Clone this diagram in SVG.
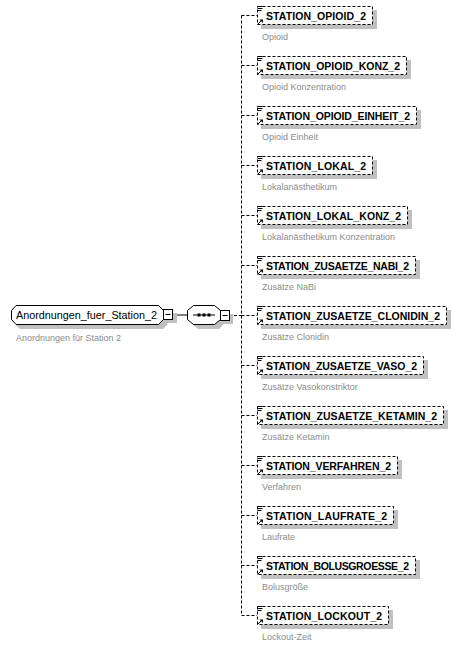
<svg xmlns="http://www.w3.org/2000/svg" width="462" height="648" viewBox="0 0 462 648">
<style>
.bg{fill:#ffffff}
.box{fill:#ffffff;stroke:#000;stroke-width:1;stroke-dasharray:3 2}
.solid{fill:#ffffff;stroke:#000;stroke-width:1}
.shadow{fill:#c0c0c0;stroke:none}
.name{font-family:"Liberation Sans",Arial,sans-serif;font-size:10.5px;font-weight:bold;fill:#000}
.rname{font-family:"Liberation Sans",Arial,sans-serif;font-size:11px;fill:#000}
.desc{font-family:"Liberation Sans",Arial,sans-serif;font-size:9px;fill:#8c8c8c}
.conn{fill:none;stroke:#000;stroke-width:1}
.dash{fill:none;stroke:#000;stroke-width:1;stroke-dasharray:3 2}
.ic{fill:none;stroke:#000;stroke-width:1}
</style>
<defs>
<g id="icons">
<path class="ic" d="M257.5 6.5h5M257.5 8.5h5M257.5 10.5h4"/>
<path class="ic" d="M257.5 24.5l4-4"/>
<path d="M259.5 19.5h3.5v3.5z" fill="#000"/>
</g>
</defs>
<rect class="bg" x="0" y="0" width="462" height="648"/>
<g id="connectors">
<line class="conn" x1="173" y1="315" x2="187" y2="315"/>
<line class="dash" x1="229" y1="315.5" x2="241.5" y2="315.5"/>
<line class="dash" x1="241.5" y1="15.5" x2="241.5" y2="615.5"/>
<path class="dash" d="M241.5 15.5H257M241.5 65.5H257M241.5 115.5H257M241.5 165.5H257M241.5 215.5H257M241.5 265.5H257M241.5 315.5H257M241.5 365.5H257M241.5 415.5H257M241.5 465.5H257M241.5 515.5H257M241.5 565.5H257M241.5 615.5H257"/>
</g>
<g id="root">
<polygon class="shadow" points="20,309 163,309 167,313 167,325 163,329 20,329 16,325 16,313"/>
<polygon class="solid" points="16,305.5 158.5,305.5 163.5,310.5 163.5,319.5 158.5,324.5 16,324.5 11.5,319.5 11.5,310.5"/>
<text class="rname" x="16" y="319" textLength="141" lengthAdjust="spacingAndGlyphs">Anordnungen_fuer_Station_2</text>
<text class="desc" x="16" y="341">Anordnungen für Station 2</text>
<rect class="shadow" x="167" y="313" width="10" height="10"/>
<rect class="solid" x="163.5" y="309.5" width="9" height="10"/>
<line class="conn" x1="165.5" y1="314.5" x2="170.5" y2="314.5"/>
</g>
<g id="sequence">
<polygon class="shadow" points="198,309 219,309 224,314 224,324 219,329 198,329 192,324 192,314"/>
<polygon class="solid" points="193.5,305.5 214.5,305.5 220.5,310.5 220.5,319.5 214.5,324.5 193.5,324.5 187.5,319.5 187.5,310.5"/>
<line class="conn" x1="193" y1="315" x2="215" y2="315"/>
<rect x="197.5" y="313.5" width="3" height="3" fill="#000"/>
<rect x="202.5" y="313.5" width="3" height="3" fill="#000"/>
<rect x="207.5" y="313.5" width="3" height="3" fill="#000"/>
<rect class="shadow" x="224" y="314" width="9" height="10"/>
<rect class="solid" x="220.5" y="310.5" width="9" height="10"/>
<line class="conn" x1="222.5" y1="315.5" x2="227.5" y2="315.5"/>
</g>
<g id="n1" transform="translate(0,0)">
<rect class="shadow" x="261" y="10" width="116" height="19"/>
<rect class="box" x="257.5" y="6.5" width="115" height="18"/>
<use href="#icons"/>
<text class="name" x="266" y="19.5" textLength="100">STATION_OPIOID_2</text>
<text class="desc" x="262" y="40">Opioid</text>
</g>
<g id="n2" transform="translate(0,50)">
<rect class="shadow" x="261" y="10" width="150" height="19"/>
<rect class="box" x="257.5" y="6.5" width="149" height="18"/>
<use href="#icons"/>
<text class="name" x="266" y="19.5" textLength="134">STATION_OPIOID_KONZ_2</text>
<text class="desc" x="262" y="40">Opioid Konzentration</text>
</g>
<g id="n3" transform="translate(0,100)">
<rect class="shadow" x="261" y="10" width="160" height="19"/>
<rect class="box" x="257.5" y="6.5" width="159" height="18"/>
<use href="#icons"/>
<text class="name" x="266" y="19.5" textLength="144">STATION_OPIOID_EINHEIT_2</text>
<text class="desc" x="262" y="40">Opioid Einheit</text>
</g>
<g id="n4" transform="translate(0,150)">
<rect class="shadow" x="261" y="10" width="116" height="19"/>
<rect class="box" x="257.5" y="6.5" width="115" height="18"/>
<use href="#icons"/>
<text class="name" x="266" y="19.5" textLength="100">STATION_LOKAL_2</text>
<text class="desc" x="262" y="40">Lokalanästhetikum</text>
</g>
<g id="n5" transform="translate(0,200)">
<rect class="shadow" x="261" y="10" width="151" height="19"/>
<rect class="box" x="257.5" y="6.5" width="150" height="18"/>
<use href="#icons"/>
<text class="name" x="266" y="19.5" textLength="135">STATION_LOKAL_KONZ_2</text>
<text class="desc" x="262" y="40">Lokalanästhetikum Konzentration</text>
</g>
<g id="n6" transform="translate(0,250)">
<rect class="shadow" x="261" y="10" width="159" height="19"/>
<rect class="box" x="257.5" y="6.5" width="158" height="18"/>
<use href="#icons"/>
<text class="name" x="266" y="19.5" textLength="143">STATION_ZUSAETZE_NABI_2</text>
<text class="desc" x="262" y="40">Zusätze NaBi</text>
</g>
<g id="n7" transform="translate(0,300)">
<rect class="shadow" x="261" y="10" width="190" height="19"/>
<rect class="box" x="257.5" y="6.5" width="189" height="18"/>
<use href="#icons"/>
<text class="name" x="266" y="19.5" textLength="174">STATION_ZUSAETZE_CLONIDIN_2</text>
<text class="desc" x="262" y="40">Zusätze Clonidin</text>
</g>
<g id="n8" transform="translate(0,350)">
<rect class="shadow" x="261" y="10" width="167" height="19"/>
<rect class="box" x="257.5" y="6.5" width="166" height="18"/>
<use href="#icons"/>
<text class="name" x="266" y="19.5" textLength="151">STATION_ZUSAETZE_VASO_2</text>
<text class="desc" x="262" y="40">Zusätze Vasokonstriktor</text>
</g>
<g id="n9" transform="translate(0,400)">
<rect class="shadow" x="261" y="10" width="187" height="19"/>
<rect class="box" x="257.5" y="6.5" width="186" height="18"/>
<use href="#icons"/>
<text class="name" x="266" y="19.5" textLength="171">STATION_ZUSAETZE_KETAMIN_2</text>
<text class="desc" x="262" y="40">Zusätze Ketamin</text>
</g>
<g id="n10" transform="translate(0,450)">
<rect class="shadow" x="261" y="10" width="141" height="19"/>
<rect class="box" x="257.5" y="6.5" width="140" height="18"/>
<use href="#icons"/>
<text class="name" x="266" y="19.5" textLength="125">STATION_VERFAHREN_2</text>
<text class="desc" x="262" y="40">Verfahren</text>
</g>
<g id="n11" transform="translate(0,500)">
<rect class="shadow" x="261" y="10" width="137" height="19"/>
<rect class="box" x="257.5" y="6.5" width="136" height="18"/>
<use href="#icons"/>
<text class="name" x="266" y="19.5" textLength="121">STATION_LAUFRATE_2</text>
<text class="desc" x="262" y="40">Laufrate</text>
</g>
<g id="n12" transform="translate(0,550)">
<rect class="shadow" x="261" y="10" width="159" height="19"/>
<rect class="box" x="257.5" y="6.5" width="158" height="18"/>
<use href="#icons"/>
<text class="name" x="266" y="19.5" textLength="143">STATION_BOLUSGROESSE_2</text>
<text class="desc" x="262" y="40">Bolusgröße</text>
</g>
<g id="n13" transform="translate(0,600)">
<rect class="shadow" x="261" y="10" width="132" height="19"/>
<rect class="box" x="257.5" y="6.5" width="131" height="18"/>
<use href="#icons"/>
<text class="name" x="266" y="19.5" textLength="116">STATION_LOCKOUT_2</text>
<text class="desc" x="262" y="40">Lockout-Zeit</text>
</g>
</svg>
